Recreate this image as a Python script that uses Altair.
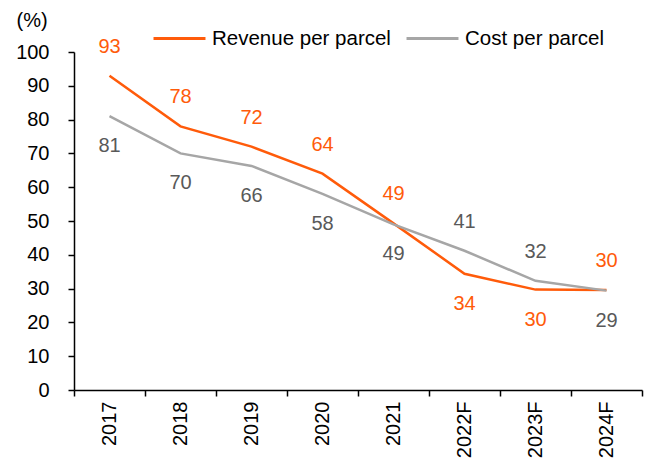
import altair as alt
import pandas as pd

years = ["2017", "2018", "2019", "2020", "2021", "2022F", "2023F", "2024F"]
revenue = [93, 78, 72, 64, 49.3, 34.4, 29.7, 29.6]
cost = [81, 70, 66.3, 58, 49.0, 41.2, 32.3, 29.4]
series_names = ["Revenue per parcel", "Cost per parcel"]

rows = []
for i, y in enumerate(years):
    r, c = revenue[i], cost[i]
    rows.append({"year": y, "series": series_names[0], "value": r, "above": r >= c})
    rows.append({"year": y, "series": series_names[1], "value": c, "above": c > r})
df = pd.DataFrame(rows)

FONT = "Liberation Sans"
FS = 20
ORANGE = "#FF5B0A"
GRAY = "#A6A6A6"
DARK = "#595959"

x = alt.X(
    "year:O",
    sort=years,
    title=None,
    bandPosition=0.5,
    scale=alt.Scale(type="band", paddingInner=0, paddingOuter=0),
    axis=alt.Axis(
        tickBand="extent", labelAngle=-90, labelFontSize=FS, labelFont=FONT,
        labelColor="black", tickSize=6, labelPadding=5, domainColor="black",
        tickColor="black", domainWidth=1.5, tickWidth=1.5, grid=False,
    ),
)
y = alt.Y(
    "value:Q",
    scale=alt.Scale(domain=[0, 100], nice=False),
    axis=alt.Axis(
        values=list(range(0, 101, 10)), title="(%)", titleAngle=0,
        titleAlign="left", titleBaseline="middle", titleX=-58, titleY=-32,
        titleFont=FONT, titleFontSize=FS, titleFontWeight="normal", titleColor="black",
        labelFontSize=FS, labelFont=FONT, labelColor="black", tickSize=6,
        labelPadding=19, domainColor="black", tickColor="black",
        domainWidth=1.5, tickWidth=1.5, grid=False,
    ),
)

base = alt.Chart(df)

lines = base.mark_line(strokeWidth=2.5).encode(
    x=x,
    y=y,
    color=alt.Color(
        "series:N",
        scale=alt.Scale(domain=series_names, range=[ORANGE, GRAY]),
        legend=alt.Legend(
            title=None, orient="none", direction="horizontal",
            legendX=78, legendY=-41, symbolType="stroke", symbolSize=2700,
            symbolStrokeWidth=3, labelFont=FONT, labelFontSize=20.5,
            labelColor="black", labelOffset=5, columnPadding=9, labelLimit=400,
        ),
    ),
    order=alt.Order("year:O"),
)

text_color = alt.Color(
    "series:N",
    scale=alt.Scale(domain=series_names, range=[ORANGE, DARK]),
    legend=None,
)

labels_above = base.transform_filter("datum.above").mark_text(
    dy=-29, font=FONT, fontSize=FS
).encode(x=x, y=y, text=alt.Text("value:Q", format=".0f"), color=text_color)

labels_below = base.transform_filter("!datum.above").mark_text(
    dy=30, font=FONT, fontSize=FS
).encode(x=x, y=y, text=alt.Text("value:Q", format=".0f"), color=text_color)

chart = (
    alt.layer(lines, labels_above, labels_below)
    .resolve_scale(color="independent")
    .properties(
        width=568, height=338,
        autosize=alt.AutoSizeParams(type="none"),
        padding={"left": 66, "top": 44, "right": 4, "bottom": 68},
        background="white",
    )
    .configure_view(stroke=None)
)

chart.save("out.html", embed_options={"renderer": "svg", "actions": False})
